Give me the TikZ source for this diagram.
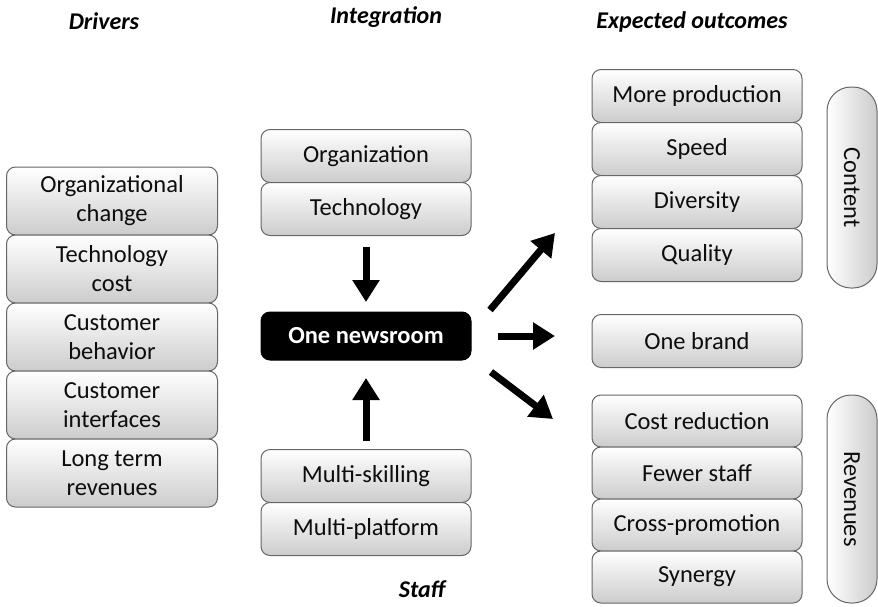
\documentclass[tikz,border=0pt]{standalone}
\usepackage{fontspec}
\setmainfont{Carlito}
\usetikzlibrary{arrows.meta,positioning}

\begin{document}
\begin{tikzpicture}[
    x=1pt, y=-1pt,
    box/.style={draw=black!60, line width=1pt, rounded corners=9pt, top color=white, bottom color=black!20,
        minimum width=210pt, minimum height=53pt, inner sep=2pt, outer sep=0pt, align=center,
        text=black!95, font=\fontsize{24.5}{29}\selectfont},
    tallbox/.style={box, minimum width=211pt, minimum height=68pt},
    newsbox/.style={draw=black, line width=1pt, rounded corners=9pt, fill=black, text=white,
        minimum width=210pt, minimum height=48pt, inner sep=2pt, outer sep=0pt,
        font=\fontsize{24.5}{29}\selectfont\bfseries},
    pill/.style={draw=black!60, line width=1pt, rounded corners=24pt, left color=white, right color=black!20,
        minimum height=50pt, inner sep=2pt, outer sep=0pt, rotate=-90,
        text=black!95, font=\fontsize{24.5}{29}\selectfont},
    heading/.style={anchor=base, text=black, font=\fontsize{24}{29}\selectfont\bfseries\itshape},
    bigarrow/.style={-{Triangle[length=22pt, width=26pt]}, line width=7pt}
]
    \useasboundingbox (0,0) rectangle (878,606);

    % column headings
    \node[heading] (drivers) at (104,29) {Drivers};
    \node[heading] (integr) at (386,23) {Integration};
    \node[heading] (outcomes) at (692,28) {Expected outcomes};
    \node[heading] (staff) at (422,597) {Staff};

    % drivers
    \node[tallbox] (orgchange) at (112,201) {Organizational\\change};
    \node[tallbox, below=0pt of orgchange] (techcost) {Technology\\cost};
    \node[tallbox, below=0pt of techcost] (behavior) {Customer\\behavior};
    \node[tallbox, below=0pt of behavior] (interfaces) {Customer\\interfaces};
    \node[tallbox, below=0pt of interfaces] (longterm) {Long term\\revenues};

    % integration
    \node[box] (org) at (366,156) {Organization};
    \node[box, below=0pt of org] (tech) {Technology};
    \node[newsbox] (news) at (366,336) {One newsroom};
    \node[box] (skill) at (366,476) {Multi-skilling};
    \node[box, below=0pt of skill] (platform) {Multi-platform};

    % expected outcomes
    \node[box] (production) at (697,96) {More production};
    \node[box, below=0pt of production] (speed) {Speed};
    \node[box, below=0pt of speed] (diversity) {Diversity};
    \node[box, below=0pt of diversity] (quality) {Quality};
    \node[box] (brand) at (697,341) {One brand};
    \node[box, minimum height=52pt] (costred) at (697,421) {Cost reduction};
    \node[box, minimum height=52pt, below=0pt of costred] (fewer) {Fewer staff};
    \node[box, minimum height=52pt, below=0pt of fewer] (crossprom) {Cross-promotion};
    \node[box, minimum height=52pt, below=0pt of crossprom] (synergy) {Synergy};

    \node[pill, minimum width=201pt] (content) at (852,187.5) {Content};
    \node[pill, minimum width=208pt] (revenues) at (852,499) {Revenues};

    % arrows
    \draw[bigarrow, shorten <=11pt, shorten >=10pt] (tech.south) -- (news.north);
    \draw[bigarrow, shorten <=9pt, shorten >=18pt] (skill.north) -- (news.south);
    \draw[bigarrow] ([shift={(19,-2)}]news.north east) -- ([shift={(-37,-22)}]quality.west);
    \draw[bigarrow, shorten <=27pt, shorten >=37pt] (news.east) -- (news.east -| brand.west);
    \draw[bigarrow] ([shift={(20,12)}]news.south east) -- ([shift={(-39,-2)}]costred.west);
\end{tikzpicture}
\end{document}
